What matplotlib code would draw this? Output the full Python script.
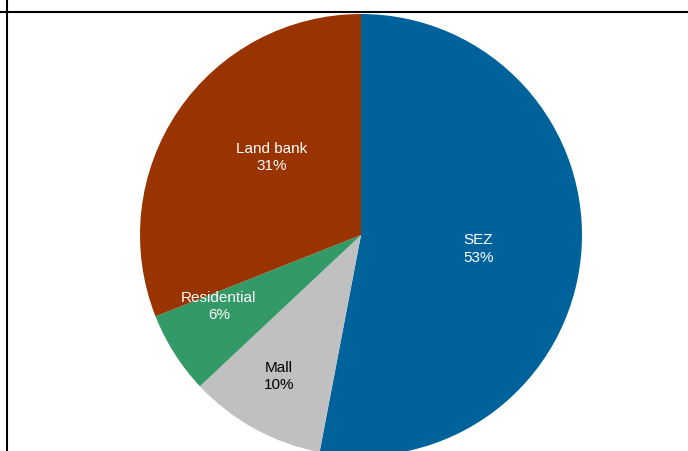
import numpy as np
import matplotlib.pyplot as plt

plt.rcParams['font.family'] = ['Liberation Sans', 'DejaVu Sans']

# portfolio split by asset type (percent)
segments = ['SEZ', 'Mall', 'Residential', 'Land bank']
shares = [53, 10, 6, 31]
colors = ['#00629B', '#C0C0C0', '#339966', '#993300']
text_colors = ['white', 'black', 'white', 'white']
# label placement: fraction of radius, clockwise nudge in degrees
label_radius = [0.535, 0.74, 0.72, 0.535]
label_nudge = [1.4, 1.2, 5.7, 6.7]

W, H = 688, 451
fig = plt.figure(figsize=(W / 100, H / 100), dpi=100)
ax = fig.add_axes([0, 0, 1, 1])

cx, cy, r = 361, H - 235, 221
wedges, _ = ax.pie(shares, colors=colors, startangle=90, counterclock=False,
                   center=(cx, cy), radius=r, frame=True,
                   wedgeprops=dict(linewidth=0))
ax.set_xlim(0, W)
ax.set_ylim(0, H)
ax.set_aspect('equal')
ax.axis('off')

for w, name, val, tc, d, nd in zip(wedges, segments, shares, text_colors,
                                    label_radius, label_nudge):
    mid = np.deg2rad((w.theta1 + w.theta2) / 2 - nd)
    x = cx + d * r * np.cos(mid)
    y = cy + d * r * np.sin(mid)
    ax.text(x, y, f'{name}\n{val}%', ha='center', va='center',
            color=tc, fontsize=11, linespacing=1.3)

# frame lines along top and left
ax.plot([0, W], [H - 12, H - 12], color='black', lw=1.5, solid_capstyle='butt')
ax.plot([7, 7], [0, H], color='black', lw=1.5, solid_capstyle='butt')

fig.savefig('out.png', dpi=100)
